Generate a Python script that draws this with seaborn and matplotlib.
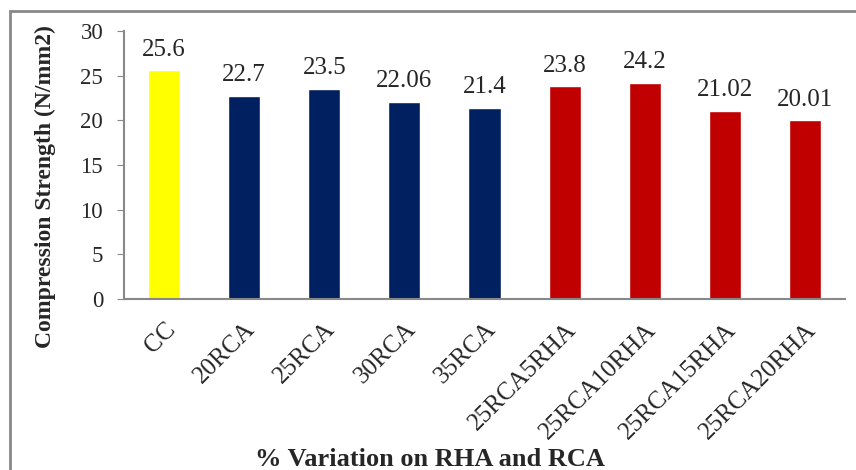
import matplotlib
matplotlib.use('Agg')
import matplotlib.pyplot as plt
import seaborn as sns
import pandas as pd
from matplotlib.patches import Rectangle

# data
mixes = ['CC', '20RCA', '25RCA', '30RCA', '35RCA',
         '25RCA5RHA', '25RCA10RHA', '25RCA15RHA', '25RCA20RHA']
strength = [25.6, 22.7, 23.5, 22.06, 21.4, 23.8, 24.2, 21.02, 20.01]
labels = ['25.6', '22.7', '23.5', '22.06', '21.4', '23.8', '24.2', '21.02', '20.01']
colors = ['#FFFF00', '#002060', '#002060', '#002060', '#002060',
          '#C00000', '#C00000', '#C00000', '#C00000']

df = pd.DataFrame({'mix': mixes, 'strength': strength})

sns.set_style('white')
plt.rcParams['font.family'] = ['Liberation Serif', 'DejaVu Serif']

fig = plt.figure(figsize=(8.56, 4.70), dpi=100)
ax = fig.add_axes([124 / 856, 1 - 299 / 470, 721 / 856, 268 / 470])

sns.barplot(data=df, x='mix', y='strength', hue='mix', palette=colors,
            legend=False, width=0.4, saturation=1, ax=ax)

for i, (v, t) in enumerate(zip(strength, labels)):
    ax.annotate(t, (i, v), xytext=(0, 7), textcoords='offset points',
                ha='center', va='bottom', fontsize=18)

ax.set_ylim(0, 30)
ax.set_yticks(range(0, 31, 5))
ax.set_xlim(-0.5, len(mixes) - 0.5)
ax.tick_params(axis='y', labelsize=16.5, length=5, direction='out', color='#888888',
               left=True, pad=10)
ax.tick_params(axis='x', labelsize=18, length=0, pad=14)
plt.setp(ax.get_xticklabels(), rotation=45, ha='right', va='top', rotation_mode='anchor')

for s in ['top', 'right']:
    ax.spines[s].set_visible(False)
for s in ['left', 'bottom']:
    ax.spines[s].set_color('#888888')
    ax.spines[s].set_linewidth(1.5)

ax.set_ylabel('Compression Strength (N/mm2)', fontsize=17, fontweight='bold', va='center')
ax.yaxis.set_label_coords(-79 / 721, 112 / 268)
ax.set_xlabel('')
fig.text(430 / 856, 1 - 459 / 470, '% Variation on RHA and RCA', ha='center', va='center',
         fontsize=19, fontweight='bold')

# outer frame of the chart area
fig.patches.append(Rectangle((10 / 856, -0.1), 1.1, 1 - 11 / 470 + 0.1,
                             transform=fig.transFigure, fill=False,
                             edgecolor='#888888', linewidth=2))

fig.savefig('out.png', dpi=100)
